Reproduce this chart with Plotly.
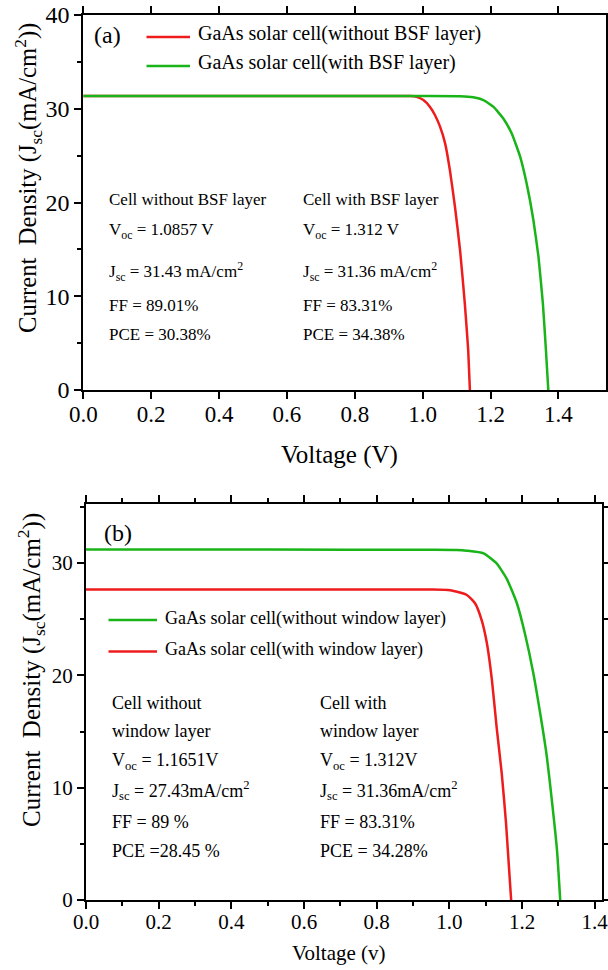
import plotly.graph_objects as go

# ---------------- data ----------------
# Panel (a)
V_a_red = [0.0, 0.5, 0.90, 0.963, 0.982, 1.002, 1.021, 1.036, 1.051, 1.066, 1.080, 1.095, 1.110, 1.124, 1.134, 1.139]
J_a_red = [31.37, 31.37, 31.37, 31.35, 31.27, 30.93, 30.22, 29.33, 28.09, 26.31, 23.47, 19.55, 14.93, 9.25, 4.27, 0.0]
V_a_grn = [0.0, 0.5, 1.0, 1.110, 1.149, 1.179, 1.208, 1.237, 1.262, 1.287, 1.306, 1.326, 1.341, 1.354, 1.363, 1.370]
J_a_grn = [31.36, 31.36, 31.36, 31.34, 31.22, 30.93, 30.22, 28.98, 27.38, 24.89, 22.05, 18.13, 14.22, 9.25, 4.27, 0.0]
names_a = ["GaAs solar cell(without BSF layer)", "GaAs solar cell(with BSF layer)"]

# Panel (b)
V_b_grn = [0.0, 0.5, 0.95, 1.02, 1.048, 1.094, 1.130, 1.158, 1.186, 1.208, 1.231, 1.250, 1.268, 1.282, 1.296, 1.305]
J_b_grn = [31.2, 31.2, 31.19, 31.17, 31.1, 30.87, 29.97, 28.6, 26.4, 23.7, 20.2, 16.6, 12.8, 8.9, 4.5, 0.0]
V_b_red = [0.0, 0.5, 0.95, 1.002, 1.048, 1.071, 1.089, 1.103, 1.117, 1.130, 1.144, 1.156, 1.170]
J_b_red = [27.65, 27.65, 27.64, 27.58, 27.16, 26.4, 24.9, 22.9, 19.6, 15.4, 11.3, 6.8, 0.0]
names_b = ["GaAs solar cell(without window layer)", "GaAs solar cell(with window layer)"]

text_a_col1 = ["Cell without BSF layer", "V<sub>oc</sub> = 1.0857 V", "J<sub>sc</sub> = 31.43 mA/cm<sup>2</sup>",
               "FF = 89.01%", "PCE = 30.38%"]
text_a_col2 = ["Cell with BSF layer", "V<sub>oc</sub> = 1.312 V", "J<sub>sc</sub> = 31.36 mA/cm<sup>2</sup>",
               "FF = 83.31%", "PCE = 34.38%"]
text_b_col1 = ["Cell without", "window layer", "V<sub>oc</sub> = 1.1651V", "J<sub>sc</sub> = 27.43mA/cm<sup>2</sup>",
               "FF = 89 %", "PCE =28.45 %"]
text_b_col2 = ["Cell with", "window layer", "V<sub>oc</sub> = 1.312V", "J<sub>sc</sub> = 31.36mA/cm<sup>2</sup>",
               "FF = 83.31%", "PCE = 34.28%"]

RED = "#ee1c1c"
GREEN = "#18b418"
FONT = "Liberation Serif, Times New Roman, serif"
W, H = 608, 970


def px(x):
    return x / W


def py(y):
    return 1 - y / H


fig = go.Figure()
fig.add_trace(go.Scatter(x=V_a_red, y=J_a_red, mode="lines", name=names_a[0],
                         line=dict(color=RED, width=2.5, shape="spline", smoothing=0.4),
                         xaxis="x", yaxis="y", showlegend=False))
fig.add_trace(go.Scatter(x=V_a_grn, y=J_a_grn, mode="lines", name=names_a[1],
                         line=dict(color=GREEN, width=2.5, shape="spline", smoothing=0.4),
                         xaxis="x", yaxis="y", showlegend=False))
fig.add_trace(go.Scatter(x=V_b_grn, y=J_b_grn, mode="lines", name=names_b[0],
                         line=dict(color=GREEN, width=2.5, shape="spline", smoothing=0.5),
                         xaxis="x2", yaxis="y2", showlegend=False))
fig.add_trace(go.Scatter(x=V_b_red, y=J_b_red, mode="lines", name=names_b[1],
                         line=dict(color=RED, width=2.5, shape="spline", smoothing=0.5),
                         xaxis="x2", yaxis="y2", showlegend=False))

axis_common = dict(showgrid=False, zeroline=False, showline=True, linecolor="black", linewidth=2,
                   ticks="outside", tickwidth=2, tickcolor="black", mirror="allticks",
                   color="black", automargin=False, ticklabeloverflow="allow")

fig.update_layout(
    template="none",
    width=W, height=H,
    margin=dict(l=0, r=0, t=0, b=0, autoexpand=False),
    paper_bgcolor="white", plot_bgcolor="white",
    font=dict(family=FONT, color="black"),
    xaxis=dict(domain=[px(83.3), px(606)], anchor="y", range=[0, 1.54], tick0=0, dtick=0.2,
               tickformat=".1f", ticklen=7, ticklabelstandoff=-5,
               tickfont=dict(size=23, family=FONT), **axis_common),
    yaxis=dict(domain=[py(390), py(15)], anchor="x", range=[0, 40], tick0=0, dtick=10,
               ticklen=7, tickfont=dict(size=24, family=FONT),
               minor=dict(dtick=5, ticklen=4, tickwidth=2, tickcolor="black", ticks="outside"),
               **axis_common),
    xaxis2=dict(domain=[px(86), px(602)], anchor="y2", range=[0, 1.42], tick0=0, dtick=0.2,
                tickformat=".1f", ticklen=7, ticklabelstandoff=-5,
                tickfont=dict(size=21, family=FONT),
                minor=dict(dtick=0.1, ticklen=4, tickwidth=2, tickcolor="black", ticks="outside"),
                **axis_common),
    yaxis2=dict(domain=[py(900), py(504)], anchor="x2", range=[0, 35.26], tick0=0, dtick=10,
                ticklen=7, tickfont=dict(size=21, family=FONT),
                minor=dict(dtick=5, ticklen=4, tickwidth=2, tickcolor="black", ticks="outside"),
                **axis_common),
)

ann = []
shapes = []


def text(x, y, s, size, xanchor="left", angle=0):
    ann.append(dict(x=px(x), y=py(y), xref="paper", yref="paper", text=s, showarrow=False,
                    xanchor=xanchor, yanchor="middle", textangle=angle,
                    font=dict(size=size, family=FONT, color="black")))


# axis titles
text(339, 455, "Voltage (V)", 25, xanchor="center")
text(28, 178, "Current  Density (J<sub>sc</sub>(mA/cm<sup>2</sup>))", 24.7, xanchor="center", angle=-90)
text(339, 953, "Voltage (v)", 21, xanchor="center")
text(31, 670, "Current  Density (J<sub>sc</sub>(mA/cm<sup>2</sup>))", 25, xanchor="center", angle=-90)

# panel labels
text(92, 35, "(a)", 24)
text(102, 533, "(b)", 24)

# legends (manual)
legend_a = [(37, 34, RED, names_a[0]), (66, 63, GREEN, names_a[1])]
for ly, ty, col, nm in legend_a:
    shapes.append(dict(type="line", xref="paper", yref="paper", x0=px(146.5), x1=px(190),
                       y0=py(ly), y1=py(ly), line=dict(color=col, width=2.5)))
    text(196, ty, nm, 20)

legend_b = [(620, 618, GREEN, names_b[0]), (651.5, 649, RED, names_b[1])]
for ly, ty, col, nm in legend_b:
    shapes.append(dict(type="line", xref="paper", yref="paper", x0=px(108.5), x1=px(157),
                       y0=py(ly), y1=py(ly), line=dict(color=col, width=2.5)))
    text(163, ty, nm, 18)

# parameter text blocks
rows_a = [200, 231, 271, 305, 334]
for yy, s in zip(rows_a, text_a_col1):
    text(107, yy, s, 17)
for yy, s in zip(rows_a, text_a_col2):
    text(301, yy, s, 17)

rows_b = [703, 731, 761, 790, 822, 851]
for yy, s in zip(rows_b, text_b_col1):
    text(110, yy, s, 18)
for yy, s in zip(rows_b, text_b_col2):
    text(318, yy, s, 18)

fig.update_layout(annotations=ann, shapes=shapes)
fig.write_html("out.html", config={"displayModeBar": False},
               post_script="document.body.style.margin='0px';document.body.style.overflow='hidden';")
